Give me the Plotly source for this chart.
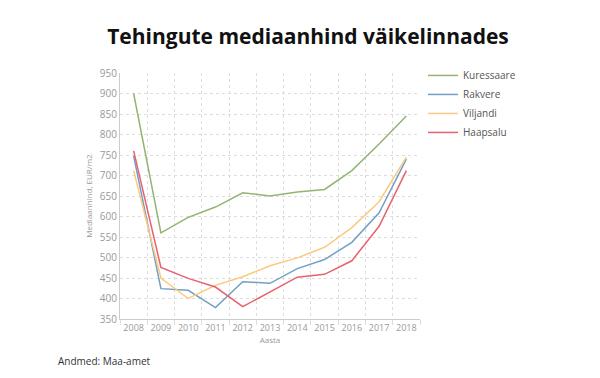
import plotly.graph_objects as go

years = ["2008", "2009", "2010", "2011", "2012", "2013", "2014", "2015", "2016", "2017", "2018"]
kuressaare = [900, 560, 598, 623, 658, 650, 660, 666, 712, 777, 845]
rakvere = [748, 424, 420, 378, 441, 437, 473, 495, 537, 609, 740]
viljandi = [712, 450, 400, 432, 453, 480, 499, 525, 573, 636, 745]
haapsalu = [760, 476, 449, 428, 380, 415, 452, 459, 492, 576, 712]

series = [
    ("Kuressaare", kuressaare, "#93b56f"),
    ("Rakvere", rakvere, "#729fc3"),
    ("Viljandi", viljandi, "#fbc97f"),
    ("Haapsalu", haapsalu, "#e8616d"),
]

fig = go.Figure()
for name, vals, col in series:
    fig.add_trace(go.Scatter(x=years, y=vals, name=name, mode="lines",
                             line=dict(color=col, width=1.5)))

fig.update_layout(
    width=600, height=378,
    margin=dict(l=112, r=188, t=65, b=67),
    paper_bgcolor="white", plot_bgcolor="white",
    title=dict(text="<b>Tehingute mediaanhind väikelinnades</b>", x=0.5, xanchor="center",
               y=0.925, yanchor="middle", font=dict(family="Open Sans", size=21, color="#111")),
    font=dict(family="Open Sans", color="#999"),
    showlegend=True,
    legend=dict(x=1.01, y=1.049, xanchor="left", yanchor="top", font=dict(size=10, color="#555"),
                tracegroupgap=0, itemwidth=30, bgcolor="rgba(0,0,0,0)"),
    xaxis=dict(type="category", range=[-0.5, 10.5], tickson="boundaries", tickangle=0,
               showgrid=True, gridcolor="#dddddd", griddash="dot", gridwidth=1,
               showline=True, linecolor="#cccccc", linewidth=1,
               ticks="outside", ticklen=5, tickcolor="#dddddd",
               tickfont=dict(size=9, color="#999"),
               title=dict(text="Aasta", font=dict(size=8, color="#999"), standoff=4),
               zeroline=False),
    yaxis=dict(range=[350, 950], dtick=50, showgrid=True, gridcolor="#dddddd", griddash="dot",
               showline=True, linecolor="#cccccc", linewidth=1,
               tickfont=dict(size=10, color="#999"), ticks="",
               title=dict(text="Mediaanhind, EUR/m2", font=dict(size=8, color="#999"), standoff=6),
               zeroline=False),
    annotations=[dict(text="Andmed: Maa-amet", xref="paper", yref="paper", x=-0.215, y=-0.17,
                      xanchor="left", yanchor="middle", showarrow=False,
                      font=dict(family="Open Sans", size=10, color="#333"))],
)

fig.write_html("out.html")
